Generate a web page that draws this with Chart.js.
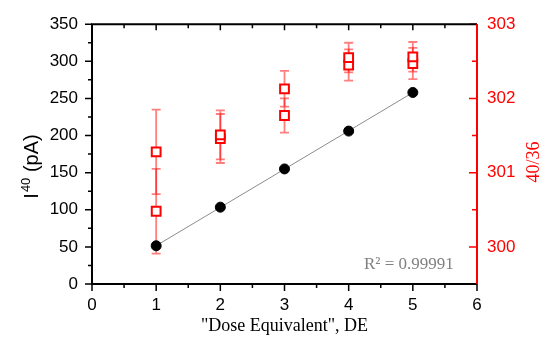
<!DOCTYPE html>
<html>
<head>
<meta charset="utf-8">
<script src="https://cdn.jsdelivr.net/npm/chart.js@4/dist/chart.umd.min.js"></script>
<style>
  html, body { margin: 0; padding: 0; background: #fff; }
  #chart { display: block; }
</style>
</head>
<body>
<canvas id="chart" width="543" height="342"></canvas>
<script>
// --- data ---
const doseLevels = [1, 2, 3, 4, 5];
const currentValues = [51.5, 103.5, 155, 206, 258];          // I40 (pA), left axis
const fitLineX = [1, 5];
const fitLineY = [51.6, 257.9];
const ratioA = [301.28, 301.51, 302.13, 302.55, 302.56];      // 40/36, right axis
const ratioAErr = [0.57, 0.33, 0.24, 0.20, 0.20];
const ratioB = [300.48, 301.46, 301.77, 302.45, 302.47];
const ratioBErr = [0.57, 0.33, 0.23, 0.21, 0.21];
const xTicks = [0, 1, 2, 3, 4, 5, 6];
const yTicks = [0, 50, 100, 150, 200, 250, 300, 350];
const ratioTicks = [300, 301, 302, 303];
const fitLabel = 'R\u00B2 = 0.99991';

const RED = '#ff0000';
const tickFont = { family: "'Liberation Sans', Arial, sans-serif", size: 17 };

const toPoints = (xs, ys) => xs.map((x, i) => ({ x: x, y: ys[i] }));

// error bars for the ratio series, drawn under the markers
const errorBars = {
    id: 'errorBars',
    beforeDatasetsDraw(chart) {
        const ctx = chart.ctx;
        const xs = chart.scales.x;
        const ys = chart.scales.y2;
        ctx.save();
        ctx.strokeStyle = 'rgba(255, 0, 0, 0.5)';
        ctx.lineWidth = 1.8;
        [[ratioA, ratioAErr], [ratioB, ratioBErr]].forEach(([vals, errs]) => {
            vals.forEach((v, i) => {
                const px = xs.getPixelForValue(doseLevels[i]);
                const top = ys.getPixelForValue(v + errs[i]);
                const bot = ys.getPixelForValue(v - errs[i]);
                ctx.beginPath();
                ctx.moveTo(px, top); ctx.lineTo(px, bot);
                ctx.moveTo(px - 4.5, top); ctx.lineTo(px + 4.5, top);
                ctx.moveTo(px - 4.5, bot); ctx.lineTo(px + 4.5, bot);
                ctx.stroke();
            });
        });
        ctx.restore();
    }
};

// frame, major/minor ticks, titles and the fit label
const frame = {
    id: 'frame',
    afterDraw(chart) {
        const ctx = chart.ctx;
        const a = chart.chartArea;
        const xs = chart.scales.x, ys = chart.scales.y, y2 = chart.scales.y2;
        ctx.save();

        // ticks
        ctx.lineWidth = 1.5;
        ctx.strokeStyle = '#000';
        ctx.beginPath();
        for (let v = 0; v <= 6; v += 0.5) {
            const px = xs.getPixelForValue(v);
            const major = v % 1 === 0;
            ctx.moveTo(px, a.bottom); ctx.lineTo(px, a.bottom + (major ? 7 : 4));
            ctx.moveTo(px, a.top); ctx.lineTo(px, a.top + (major ? 6 : 4));
        }
        for (let v = 0; v <= 350; v += 25) {
            const py = ys.getPixelForValue(v);
            ctx.moveTo(a.left, py); ctx.lineTo(a.left - (v % 50 === 0 ? 7 : 4), py);
        }
        ctx.stroke();

        ctx.strokeStyle = RED;
        ctx.beginPath();
        for (let v = 299.5; v <= 303; v += 0.5) {
            const py = y2.getPixelForValue(v);
            ctx.moveTo(a.right, py); ctx.lineTo(a.right - (v % 1 === 0 ? 8 : 5), py);
        }
        ctx.stroke();

        // axis lines
        ctx.lineWidth = 2;
        ctx.strokeStyle = '#000';
        ctx.beginPath();
        ctx.moveTo(a.right, a.top); ctx.lineTo(a.left, a.top);
        ctx.lineTo(a.left, a.bottom); ctx.lineTo(a.right, a.bottom);
        ctx.stroke();
        ctx.strokeStyle = RED;
        ctx.beginPath();
        ctx.moveTo(a.right, a.top); ctx.lineTo(a.right, a.bottom);
        ctx.stroke();

        // x title
        ctx.fillStyle = '#000';
        ctx.font = "18px 'Liberation Serif', 'Times New Roman', serif";
        ctx.textAlign = 'center';
        ctx.textBaseline = 'alphabetic';
        ctx.fillText('"Dose Equivalent", DE', (a.left + a.right) / 2, 331);

        // left title with superscript
        ctx.save();
        ctx.translate(38, 167);
        ctx.rotate(-Math.PI / 2);
        const big = "20px 'Liberation Sans', Arial, sans-serif";
        const small = "13px 'Liberation Sans', Arial, sans-serif";
        ctx.font = big;
        const wI = ctx.measureText('I').width;
        const wRest = ctx.measureText(' (pA)').width;
        ctx.font = small;
        const wSup = ctx.measureText('40').width;
        let x0 = -(wI + wSup + wRest) / 2;
        ctx.textAlign = 'left';
        ctx.font = big;
        ctx.fillText('I', x0, 0);
        ctx.font = small;
        ctx.fillText('40', x0 + wI + 1, -8);
        ctx.font = big;
        ctx.fillText(' (pA)', x0 + wI + wSup + 1, 0);
        ctx.restore();

        // right title
        ctx.save();
        ctx.translate(539, 162);
        ctx.rotate(-Math.PI / 2);
        ctx.fillStyle = RED;
        ctx.font = "18px 'Liberation Serif', 'Times New Roman', serif";
        ctx.textAlign = 'center';
        ctx.fillText('40/36', 0, 0);
        ctx.restore();

        // fit label
        ctx.fillStyle = '#808080';
        ctx.font = "17px 'Liberation Serif', 'Times New Roman', serif";
        ctx.textAlign = 'left';
        ctx.fillText(fitLabel, 364, 269);

        ctx.restore();
    }
};

new Chart(document.getElementById('chart'), {
    type: 'scatter',
    data: {
        datasets: [
            {
                label: 'I40',
                data: toPoints(doseLevels, currentValues),
                yAxisID: 'y',
                pointStyle: 'circle',
                pointRadius: 5,
                backgroundColor: '#000',
                borderColor: '#000',
                order: 0
            },
            {
                label: 'fit',
                type: 'line',
                data: toPoints(fitLineX, fitLineY),
                yAxisID: 'y',
                borderColor: '#8c8c8c',
                borderWidth: 1,
                pointRadius: 0,
                fill: false,
                order: 3
            },
            {
                label: '40/36 a',
                data: toPoints(doseLevels, ratioA),
                yAxisID: 'y2',
                pointStyle: 'rect',
                pointRadius: 6.2,
                borderWidth: 2,
                backgroundColor: '#fff',
                borderColor: RED,
                order: 1
            },
            {
                label: '40/36 b',
                data: toPoints(doseLevels, ratioB),
                yAxisID: 'y2',
                pointStyle: 'rect',
                pointRadius: 6.2,
                borderWidth: 2,
                backgroundColor: '#fff',
                borderColor: RED,
                order: 2
            }
        ]
    },
    options: {
        responsive: false,
        animation: false,
        devicePixelRatio: 1,
        layout: { padding: { top: 21, left: 0, right: 0, bottom: 0 } },
        plugins: {
            legend: { display: false },
            tooltip: { enabled: false }
        },
        scales: {
            x: {
                type: 'linear',
                min: 0,
                max: 6,
                afterBuildTicks: (s) => { s.ticks = xTicks.map(v => ({ value: v })); },
                afterFit: (s) => { s.height = 58; },
                grid: { display: false, drawTicks: false },
                border: { display: false },
                ticks: { color: '#000', font: tickFont, padding: 11 }
            },
            y: {
                position: 'left',
                min: 0,
                max: 350,
                afterBuildTicks: (s) => { s.ticks = yTicks.map(v => ({ value: v })); },
                afterFit: (s) => { s.width = 92; },
                grid: { display: false, drawTicks: false },
                border: { display: false },
                ticks: { color: '#000', font: tickFont, padding: 14 }
            },
            y2: {
                position: 'right',
                min: 299.5,
                max: 303,
                afterBuildTicks: (s) => { s.ticks = ratioTicks.map(v => ({ value: v })); },
                afterFit: (s) => { s.width = 66; },
                grid: { display: false, drawTicks: false },
                border: { display: false },
                ticks: { color: RED, font: tickFont, padding: 10 }
            }
        }
    },
    plugins: [errorBars, frame]
});
</script>
</body>
</html>
